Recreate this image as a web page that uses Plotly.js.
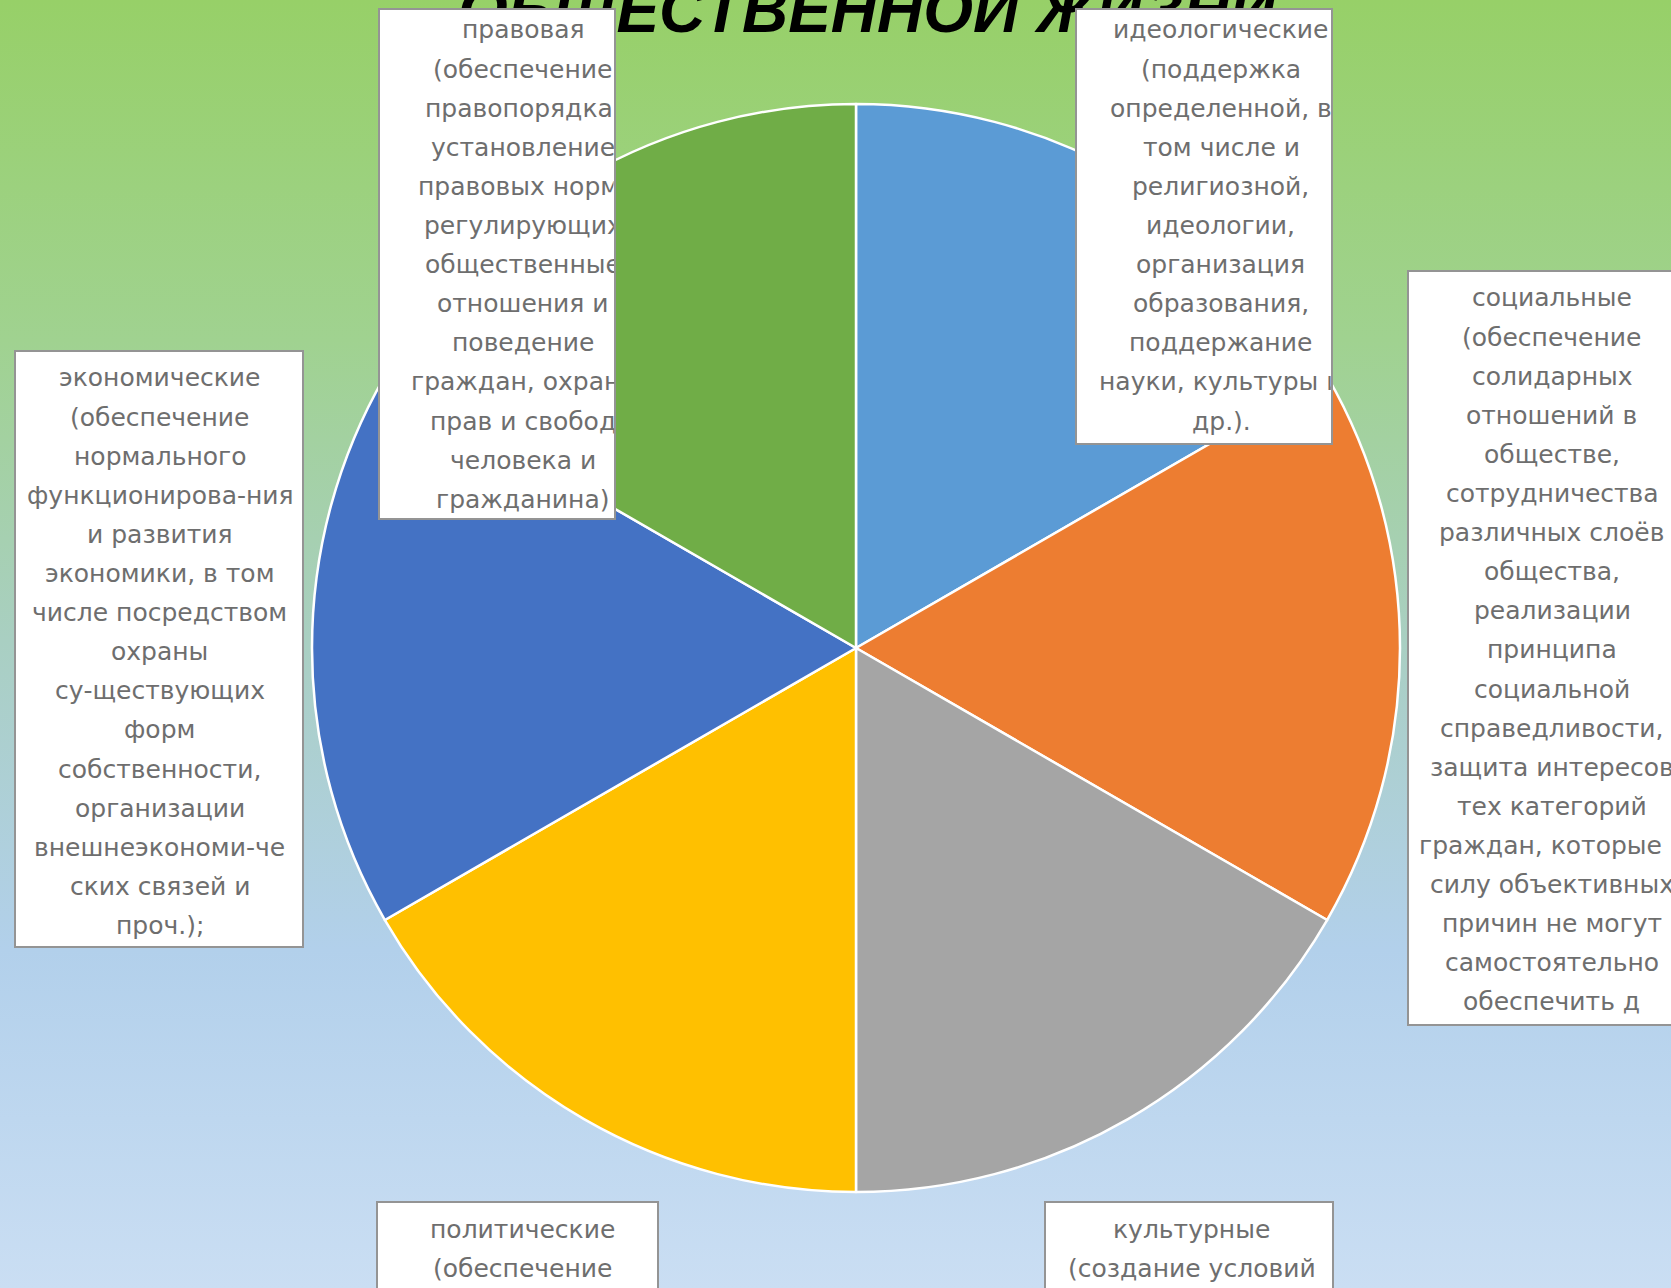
<!DOCTYPE html>
<html>
<head>
<meta charset="utf-8">
<script src="https://cdn.plot.ly/plotly-3.0.1.min.js"></script>
<style>
html, body { margin: 0; padding: 0; overflow: hidden; }
#chart {
  width: 1671px; height: 1288px;
  background: linear-gradient(to bottom, #97d068 0px, #a0d290 340px, #a9cfc2 640px, #b2d0eb 950px, #cadef3 1288px);
}
</style>
</head>
<body>
<div id="chart"></div>
<script>
// ---------- DATA ----------
const categories = ['идеологические', 'социальные', 'культурные', 'политические', 'экономические', 'правовая'];
const values = [1, 1, 1, 1, 1, 1];
const titleText = 'ОБЩЕСТВЕННОЙ ЖИЗНИ';

const linesIdeological = ['идеологические', '(поддержка', 'определенной, в', 'том числе и', 'религиозной,',
  'идеологии,', 'организация', 'образования,', 'поддержание', 'науки, культуры и', 'др.).'];
const linesSocial = ['социальные', '(обеспечение', 'солидарных', 'отношений в', 'обществе,', 'сотрудничества',
  'различных слоёв', 'общества,', 'реализации', 'принципа', 'социальной', 'справедливости,', 'защита интересов',
  'тех категорий', 'граждан, которые в', 'силу объективных', 'причин не могут', 'самостоятельно', 'обеспечить д'];
const linesCultural = ['культурные', '(создание условий'];
const linesPolitical = ['политические', '(обеспечение'];
const linesEconomic = ['экономические', '(обеспечение', 'нормального', 'функционирова-ния', 'и развития',
  'экономики, в том', 'числе посредством', 'охраны', 'су-ществующих', 'форм', 'собственности,',
  'организации', 'внешнеэкономи-че', 'ских связей и', 'проч.);'];
const linesLegal = ['правовая', '(обеспечение', 'правопорядка,', 'установление', 'правовых норм,', 'регулирующих',
  'общественные', 'отношения и', 'поведение', 'граждан, охрана', 'прав и свобод', 'человека и', 'гражданина)'];

// ---------- STYLE / LAYOUT ----------
const W = 1671, H = 1288;
const sliceColors = ['#5B9BD5', '#ED7D31', '#A5A5A5', '#FFC000', '#4472C4', '#70AD47'];
const pieCx = 856, pieCy = 648, pieR = 544;
const FS = 25, FONT = 'DejaVu Sans', LINE_STEP = 39.1, TEXT_COLOR = '#6e6e6e';

const boxes = [
  {lines: linesIdeological, left: 1075, top: 8,    right: 1333, bottom: 445,  cx: 1220, firstY: 30},
  {lines: linesSocial,      left: 1407, top: 270,  right: 1700, bottom: 1026, cx: 1551, firstY: 298},
  {lines: linesCultural,    left: 1044, top: 1201, right: 1334, bottom: 1310, cx: 1191, firstY: 1229},
  {lines: linesPolitical,   left: 376,  top: 1201, right: 659,  bottom: 1310, cx: 522,  firstY: 1229},
  {lines: linesEconomic,    left: 14,   top: 350,  right: 304,  bottom: 948,  cx: 159,  firstY: 378},
  {lines: linesLegal,       left: 378,  top: 8,    right: 616,  bottom: 520,  cx: 522,  firstY: 30}
];

const px = x => x / W;
const py = y => 1 - y / H;

const ctx = document.createElement('canvas').getContext('2d');
ctx.font = FS + 'px "' + FONT + '"';

const annotations = [];
// title (partly cut off at the top edge, behind the boxes)
annotations.push({
  xref: 'paper', yref: 'paper', x: px(868), y: py(9), xanchor: 'center', yanchor: 'middle',
  text: '<b><i>' + titleText + '</i></b>', showarrow: false,
  font: {family: 'Liberation Sans, Arial, sans-serif', size: 64, color: '#000000'}
});
// white boxes
const BW = 2;
boxes.forEach(b => {
  annotations.push({
    xref: 'paper', yref: 'paper', x: px(b.left), y: py(b.top), xanchor: 'left', yanchor: 'top',
    text: '\u00a0', showarrow: false, bgcolor: '#ffffff', bordercolor: '#949494', borderwidth: BW, borderpad: 0,
    width: (b.right - b.left) - 2 * BW, height: (b.bottom - b.top) - 2 * BW,
    font: {size: 4}
  });
});
// label text, one annotation per line, clipped at box right edge
boxes.forEach(b => {
  b.lines.forEach((ln, i) => {
    const w = ctx.measureText(ln).width;
    const left = b.cx - w / 2;
    const maxW = (b.right - BW - 1) - left;
    const a = {
      xref: 'paper', yref: 'paper', x: px(left), y: py(b.firstY + i * LINE_STEP),
      xanchor: 'left', yanchor: 'middle', align: 'left', borderpad: 0,
      text: ln, showarrow: false,
      font: {family: FONT, size: FS, color: TEXT_COLOR}
    };
    if (w + 2 > maxW) a.width = Math.max(1, maxW);
    annotations.push(a);
  });
});

const trace = {
  type: 'pie',
  values: values,
  labels: categories,
  sort: false,
  direction: 'clockwise',
  rotation: 0,
  textinfo: 'none',
  hoverinfo: 'label',
  showlegend: false,
  marker: {colors: sliceColors, line: {color: '#ffffff', width: 2.5}},
  domain: {
    x: [(pieCx - pieR) / W, (pieCx + pieR) / W],
    y: [1 - (pieCy + pieR) / H, 1 - (pieCy - pieR) / H]
  }
};

const layout = {
  width: W, height: H,
  margin: {l: 0, r: 0, t: 0, b: 0},
  paper_bgcolor: 'rgba(0,0,0,0)',
  plot_bgcolor: 'rgba(0,0,0,0)',
  showlegend: false,
  annotations: annotations
};

Plotly.newPlot('chart', [trace], layout, {displayModeBar: false, staticPlot: true});
</script>
</body>
</html>
